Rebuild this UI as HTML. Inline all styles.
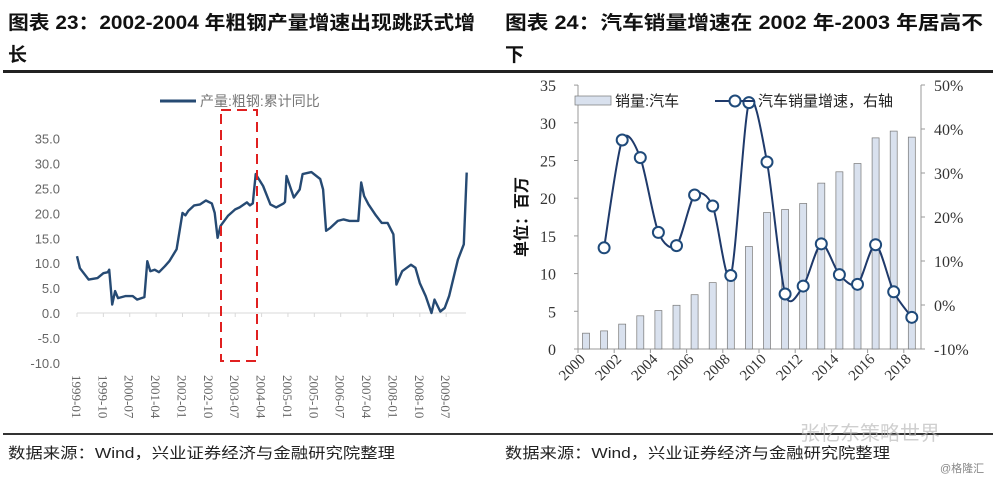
<!DOCTYPE html>
<html><head><meta charset="utf-8"><style>
body{margin:0;width:1000px;height:478px;background:#fff;overflow:hidden;font-family:"Liberation Sans","Noto Sans CJK SC",sans-serif}
svg{position:absolute;left:0;top:0}
</style></head><body>
<svg width="1000" height="478">
<g id="static"></g>
<g id="c1"></g>
<g id="c2"></g>
</svg>
<script>
// Chart 1 data: monthly index from 1999-01, steel output YoY cumulative
const steelMonth=[0,1,4,7,9,10.5,11,12,13,14,16.5,19,20.5,23,24,25,26.5,28,30,31.5,34,36,37,38,40,42,44,46,47,48,49,51.5,54,55.5,58,59,60,61,63.5,66,68,70.5,71,71.5,74,76,77,80,83,84,85,86.5,89,91,93,96,97,98,99.5,102,104,106,108,109,111,114,115.5,117,119,121,122,124,125.5,127,130,132,133];
const steelValue=[11.4,9,6.7,7,8,8.2,8.7,1.7,4.4,3,3.4,3.4,2.7,3.2,10.4,8.4,8.7,8.2,9.4,10.4,12.8,20.1,19.6,20.5,21.6,21.8,22.6,22,20.1,15.1,17.5,19.5,20.8,21.2,22.2,21.6,22,27.9,25.5,21.8,21.2,22,22.3,27.5,23.2,24.8,27.9,28.3,26.9,24.8,16.5,17.1,18.5,18.8,18.5,18.5,26.2,23.5,21.8,19.6,18.1,18.1,15.8,5.7,8.4,9.7,9.1,6,3.4,0,2.7,0.3,1,3.4,10.7,13.8,28.2];
const yTicks1=["35.0","30.0","25.0","20.0","15.0","10.0","5.0","0.0","-5.0","-10.0"];
const yTickVals1=[35,30,25,20,15,10,5,0,-5,-10];
const xLabels1=["1999-01","1999-10","2000-07","2001-04","2002-01","2002-10","2003-07","2004-04","2005-01","2005-10","2006-07","2007-04","2008-01","2008-10","2009-07"];
// Chart 2 data
const years=[2000,2001,2002,2003,2004,2005,2006,2007,2008,2009,2010,2011,2012,2013,2014,2015,2016,2017,2018];
const sales=[2.1,2.4,3.3,4.4,5.1,5.8,7.2,8.8,9.4,13.6,18.1,18.5,19.3,22.0,23.5,24.6,28.0,28.9,28.1];
const growth=[null,13,37.5,33.5,16.5,13.5,25,22.5,6.7,46,32.5,2.5,4.3,13.9,6.9,4.7,13.7,3,-2.8];
const leftTicks2=[0,5,10,15,20,25,30,35];
const rightTicks2=[-10,0,10,20,30,40,50];
const xLabels2=["2000","2002","2004","2006","2008","2010","2012","2014","2016","2018"];

const NS="http://www.w3.org/2000/svg";
function mk(parent,tag,attrs,text){const e=document.createElementNS(NS,tag);for(const k in attrs)e.setAttribute(k,attrs[k]);if(text!==undefined)e.textContent=text;parent.appendChild(e);return e;}

const st=document.getElementById('static');
let t;
t=mk(st,'text',{x:8,y:29,'font-size':19,'font-weight':'bold',fill:'#111',textLength:467,lengthAdjust:'spacingAndGlyphs'},'图表 23：2002-2004 年粗钢产量增速出现跳跃式增');

t=mk(st,'text',{x:8,y:61,'font-size':19,'font-weight':'bold',fill:'#111'},'长');

t=mk(st,'text',{x:505,y:29,'font-size':19,'font-weight':'bold',fill:'#111',textLength:478,lengthAdjust:'spacingAndGlyphs'},'图表 24：汽车销量增速在 2002 年-2003 年居高不');

t=mk(st,'text',{x:505,y:61,'font-size':19,'font-weight':'bold',fill:'#111'},'下');

t=mk(st,'rect',{x:3,y:70,width:990,height:3,fill:'#222'});

t=mk(st,'rect',{x:3,y:433,width:990,height:2,fill:'#333'});

t=mk(st,'text',{x:8,y:458,'font-size':15,fill:'#222',textLength:387,lengthAdjust:'spacingAndGlyphs'},'数据来源：Wind，兴业证券经济与金融研究院整理');

t=mk(st,'text',{x:505,y:458,'font-size':15,fill:'#222',textLength:385,lengthAdjust:'spacingAndGlyphs'},'数据来源：Wind，兴业证券经济与金融研究院整理');

t=mk(st,'text',{x:800,y:440,'font-size':20,fill:'#bbb',opacity:0.7},'张忆东策略世界');

t=mk(st,'text',{x:940,y:472,'font-size':11,fill:'#888'},'@格隆汇');


// Chart 1
const c1=document.getElementById('c1');
const x1=m=>77+m*2.93;
const y1=v=>313-v*4.98;
yTickVals1.forEach((v,i)=>{
 const e=mk(c1,'text',{x:60,y:y1(v)+5,'font-size':13,fill:'#666','text-anchor':'end'},yTicks1[i]);
 
});
let ax=mk(c1,'line',{x1:77,y1:y1(0),x2:466,y2:y1(0),stroke:'#d9d9d9','stroke-width':1});

xLabels1.forEach((l,i)=>{
 const xx=x1(i*9);
 const tk=mk(c1,'line',{x1:xx,y1:y1(0),x2:xx,y2:y1(0)+4,stroke:'#d9d9d9'});
 
 const e=mk(c1,'text',{x:0,y:0,'font-size':13,fill:'#666',transform:`translate(${xx-5},375) rotate(90)`,'font-family':'Liberation Serif, serif'},l);
 
});
let d='';steelMonth.forEach((m,i)=>{d+=(i?'L':'M')+x1(m).toFixed(1)+','+y1(steelValue[i]).toFixed(1);});
let p=mk(c1,'path',{d:d,fill:'none',stroke:'#264a73','stroke-width':2.4,'stroke-linejoin':'round'});

let lg=mk(c1,'line',{x1:160,y1:101,x2:196,y2:101,stroke:'#264a73','stroke-width':3});

lg=mk(c1,'text',{x:200,y:106,'font-size':14,fill:'#777'},'产量:粗钢:累计同比');

let box=mk(c1,'rect',{x:221,y:110,width:36,height:251,fill:'none',stroke:'#e02020','stroke-width':2,'stroke-dasharray':'10,6'});


// Chart 2
const c2=document.getElementById('c2');
const xb=i=>586+i*18.1;
const yl=v=>349-v*7.54;
const yr=v=>349-(v+10)*4.4;
leftTicks2.forEach(v=>{
 const e=mk(c2,'text',{x:556,y:yl(v)+6,'font-size':16,fill:'#333','text-anchor':'end','font-family':'Liberation Serif, serif'},String(v));
 
 const k=mk(c2,'line',{x1:574,y1:yl(v),x2:578,y2:yl(v),stroke:'#999'});
 
});
rightTicks2.forEach(v=>{
 const e=mk(c2,'text',{x:934,y:yr(v)+6,'font-size':16,fill:'#333','font-family':'Liberation Serif, serif'},v+'%');
 
 const k=mk(c2,'line',{x1:921,y1:yr(v),x2:925,y2:yr(v),stroke:'#999'});
 
});
[['left-axis',578,85,578,349],['right-axis',921,85,921,349],['x-axis2',578,349,921,349]].forEach(a=>{
 const e=mk(c2,'line',{x1:a[1],y1:a[2],x2:a[3],y2:a[4],stroke:'#999'});
 
});
let yt=mk(c2,'text',{x:0,y:0,'font-size':16,'font-weight':'bold',fill:'#111','text-anchor':'middle',transform:'translate(527,217) rotate(-90)'},'单位：百万');

sales.forEach((v,i)=>{
 const r=mk(c2,'rect',{x:xb(i)-3.5,y:yl(v),width:7,height:yl(0)-yl(v),fill:'#d9e1ee',stroke:'#777','stroke-width':0.7});
 
});
xLabels2.forEach((l,i)=>{
 const xx=578+i*2*18.1;
 const k=mk(c2,'line',{x1:xx,y1:349,x2:xx,y2:353,stroke:'#999'});
 
 const e=mk(c2,'text',{x:0,y:0,'font-size':15,fill:'#333','text-anchor':'end','font-family':'Liberation Serif, serif',transform:`translate(${xx+8},360) rotate(-45)`},l);
 
});
const pts=[];growth.forEach((g,i)=>{if(g!==null)pts.push([xb(i),yr(g)]);});
let dd='M'+pts[0][0]+','+pts[0][1];
for(let i=0;i<pts.length-1;i++){
 const p0=pts[i-1]||pts[i],p1=pts[i],p2=pts[i+1],p3=pts[i+2]||p2,tt=0.14;
 dd+=`C${p1[0]+(p2[0]-p0[0])*tt},${p1[1]+(p2[1]-p0[1])*tt} ${p2[0]-(p3[0]-p1[0])*tt},${p2[1]-(p3[1]-p1[1])*tt} ${p2[0]},${p2[1]}`;
}
let gl=mk(c2,'path',{d:dd,fill:'none',stroke:'#1f3a6b','stroke-width':2});

pts.forEach(q=>{
 const c=mk(c2,'circle',{cx:q[0],cy:q[1],r:5.5,fill:'#fff',stroke:'#1f4a7a','stroke-width':2});
 
});
let l2=mk(c2,'rect',{x:575,y:96,width:36,height:9,fill:'#d9e1ee',stroke:'#777','stroke-width':0.7});

l2=mk(c2,'text',{x:615,y:106,'font-size':15,fill:'#222'},'销量:汽车');

l2=mk(c2,'line',{x1:715,y1:101,x2:755,y2:101,stroke:'#1f3a6b','stroke-width':2});

l2=mk(c2,'circle',{cx:735,cy:101,r:5.5,fill:'#fff',stroke:'#1f4a7a','stroke-width':2});

l2=mk(c2,'text',{x:758,y:106,'font-size':15,fill:'#222'},'汽车销量增速，右轴');

</script>
</body></html>
